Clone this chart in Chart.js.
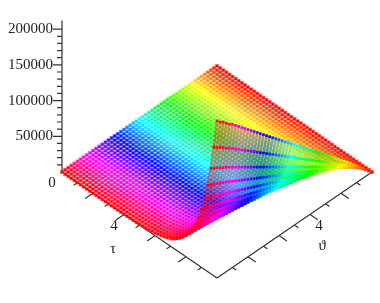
<!DOCTYPE html>
<html>
<head>
<meta charset="utf-8">
<title>Surface</title>
<script src="https://cdn.jsdelivr.net/npm/chart.js@4"></script>
<style>
  html, body { margin: 0; padding: 0; background: #fff; }
  canvas { display: block; filter: blur(0.45px); }
</style>
</head>
<body>
<canvas id="surface" width="380" height="303"></canvas>
<script>
// mesh of the surface
const tauMesh = [0, 0.2, 0.4, 0.6, 0.8, 1, 1.2, 1.4, 1.6, 1.8, 2, 2.2, 2.4, 2.6, 2.8, 3, 3.2, 3.4, 3.6, 3.8, 4, 4.2, 4.4, 4.6, 4.8, 5, 5.2, 5.4, 5.6, 5.8, 6, 6.2, 6.4, 6.6, 6.8, 7, 7.2, 7.4, 7.6, 7.8, 8, 8.2, 8.4, 8.6, 8.8, 9, 9.2, 9.4, 9.6, 9.8, 10];
const thetaMesh = [0, 0.2, 0.4, 0.6, 0.8, 1, 1.2, 1.4, 1.6, 1.8, 2, 2.2, 2.4, 2.6, 2.8, 3, 3.2, 3.4, 3.6, 3.8, 4, 4.2, 4.4, 4.6, 4.8, 5, 5.2, 5.4, 5.6, 5.8, 6, 6.2, 6.4, 6.6, 6.8, 7, 7.2, 7.4, 7.6, 7.8, 8, 8.2, 8.4, 8.6, 8.8, 9, 9.2, 9.4, 9.6, 9.8, 10];
// height along the near edge (theta = 10), one value per tau
const edgeHeight = [10, 12, 15, 18, 22, 27, 33, 41, 50, 60, 74, 90, 110, 135, 165, 200, 245, 300, 365, 445, 545, 665, 815, 995, 1215, 1485, 1815, 2215, 2705, 3300, 4035, 4930, 6020, 7350, 8980, 10970, 13390, 16360, 19980, 24410, 29810, 36410, 44470, 54320, 66340, 81030, 98970, 120900, 147650, 180340, 220000];
// share of that height reached at each theta
const thetaShare = [0, 0.022, 0.044, 0.065, 0.086, 0.107, 0.128, 0.149, 0.17, 0.19, 0.21, 0.23, 0.25, 0.27, 0.29, 0.31, 0.33, 0.35, 0.37, 0.39, 0.41, 0.43, 0.45, 0.47, 0.49, 0.51, 0.53, 0.55, 0.57, 0.59, 0.61, 0.63, 0.65, 0.67, 0.69, 0.71, 0.73, 0.75, 0.77, 0.79, 0.81, 0.83, 0.85, 0.87, 0.89, 0.91, 0.925, 0.945, 0.965, 0.98, 1];

const zTicks = [50000, 100000, 150000, 200000];
const zMinorTicks = [10000, 20000, 30000, 40000, 60000, 70000, 80000, 90000, 110000, 120000, 130000, 140000, 160000, 170000, 180000, 190000];
const baseTicks = [1, 2, 3, 4, 5, 6, 7, 8, 9];
const zAxisTop = 212000;

// text, tau, theta of the labels on the floor of the box
const floorLabels = [
  ['0', 0.2, 10.84],
  ['4', 4.22, 10.87],
  ['τ', 5.28, 11.99],
  ['4', 10.84, 4.26],
  ['ϑ', 11.88, 5.1]
];

// pixels per unit along the floor, z units per pixel
const STEP_X = 15.5;
const STEP_Y = 10.6;
const Z_PER_PX = 1400;

function project(tau, theta, z) {
  return {
    x: (tau + 10 - theta) * STEP_X,
    y: z - Z_PER_PX * STEP_Y * (tau - 10 + theta)
  };
}

function hue(theta, alpha) {
  return `hsla(${theta * 36}, 100%, 50%, ${alpha})`;
}

function heightAt(i, j) {
  return edgeHeight[i] * thetaShare[j];
}

// first row of a column lying past the fold, where the surface climbs faster than the floor falls
function foldRow(j) {
  for (let i = 0; i < tauMesh.length - 1; i++) {
    const here = project(tauMesh[i], thetaMesh[j], heightAt(i, j)).y;
    const next = project(tauMesh[i + 1], thetaMesh[j], heightAt(i + 1, j)).y;
    if (next > here) return i;
  }
  return tauMesh.length - 1;
}

const flatPoints = [], flatColors = [], flatTint = [];
const wallPoints = [], wallColors = [];
const columnSets = [];

thetaMesh.forEach((theta, j) => {
  const fold = foldRow(j);
  tauMesh.forEach((tau, i) => {
    const p = project(tau, theta, heightAt(i, j));
    if (i <= fold) {
      flatPoints.push(p);
      flatColors.push(hue(theta, 1));
      flatTint.push(hue(theta, 0.5));
    } else {
      wallPoints.push(p);
      wallColors.push(hue(theta, 1));
    }
  });
  const column = tauMesh.slice(fold).map((tau, k) => project(tau, theta, heightAt(fold + k, j)));
  columnSets.push({
    data: column,
    showLine: true,
    borderColor: hue(theta, 0.42),
    borderWidth: 2.6,
    pointRadius: 0,
    clip: false,
    order: 3
  });
});

// axes of the box with their tick marks, broken by gaps
const axisPath = [];
function addSegment(a, b) {
  axisPath.push(a, b, { x: null, y: null });
}
addSegment({ x: 0, y: 0 }, { x: 0, y: zAxisTop });
zTicks.forEach((z) => addSegment({ x: 0, y: z }, { x: -9, y: z }));
zMinorTicks.forEach((z) => addSegment({ x: 0, y: z }, { x: -5, y: z }));
addSegment(project(0, 10, 0), project(10, 10, 0));
addSegment(project(10, 10, 0), project(10, 0, 0));
baseTicks.forEach((k) => {
  const len = k % 2 === 0 ? 0.5 : 0.25;
  addSegment(project(k, 10, 0), project(k, 10 + len, 0));
  addSegment(project(10, k, 0), project(10 + len, k, 0));
});

const floorText = {
  id: 'floorText',
  afterDatasetsDraw(chart) {
    const { ctx, scales } = chart;
    ctx.save();
    ctx.font = '15px "Liberation Serif"';
    ctx.fillStyle = '#222';
    ctx.textAlign = 'center';
    ctx.textBaseline = 'middle';
    floorLabels.forEach(([text, tau, theta]) => {
      const p = project(tau, theta, 0);
      ctx.fillText(text, scales.x.getPixelForValue(p.x), scales.y.getPixelForValue(p.y));
    });
    ctx.restore();
  }
};

new Chart(document.getElementById('surface'), {
  type: 'scatter',
  data: {
    datasets: [
      { data: axisPath, showLine: true, spanGaps: false, clip: false, borderColor: '#333', borderWidth: 1.2, pointRadius: 0, order: 9 },
      { data: flatPoints, pointStyle: 'rect', pointRadius: 2.8, pointBorderWidth: 0, backgroundColor: flatTint, clip: false, order: 8 },
      { data: flatPoints, pointStyle: 'rect', pointRadius: 1.7, pointBorderWidth: 0, backgroundColor: flatColors, clip: false, order: 7 },
      { data: wallPoints, pointStyle: 'rect', pointRadius: 1.9, pointBorderWidth: 0, backgroundColor: wallColors, clip: false, order: 2 },
      ...columnSets
    ]
  },
  options: {
    responsive: false,
    animation: false,
    events: [],
    layout: { padding: 0, autoPadding: false },
    plugins: { legend: { display: false }, tooltip: { enabled: false } },
    scales: {
      x: { type: 'linear', display: false, min: 0, max: 318 },
      y: {
        type: 'linear',
        min: -183400,
        max: 240800,
        border: { display: false },
        grid: { display: false, drawTicks: false },
        afterBuildTicks: (scale) => { scale.ticks = zTicks.map((value) => ({ value })); },
        afterFit: (scale) => {
          scale.width = 62;
          scale.paddingTop = 0;
          scale.paddingBottom = 0;
        },
        ticks: {
          padding: 9,
          color: '#222',
          font: { family: '"Liberation Serif"', size: 15 },
          callback: (v) => String(v)
        }
      }
    }
  },
  plugins: [floorText]
});
</script>
</body>
</html>
